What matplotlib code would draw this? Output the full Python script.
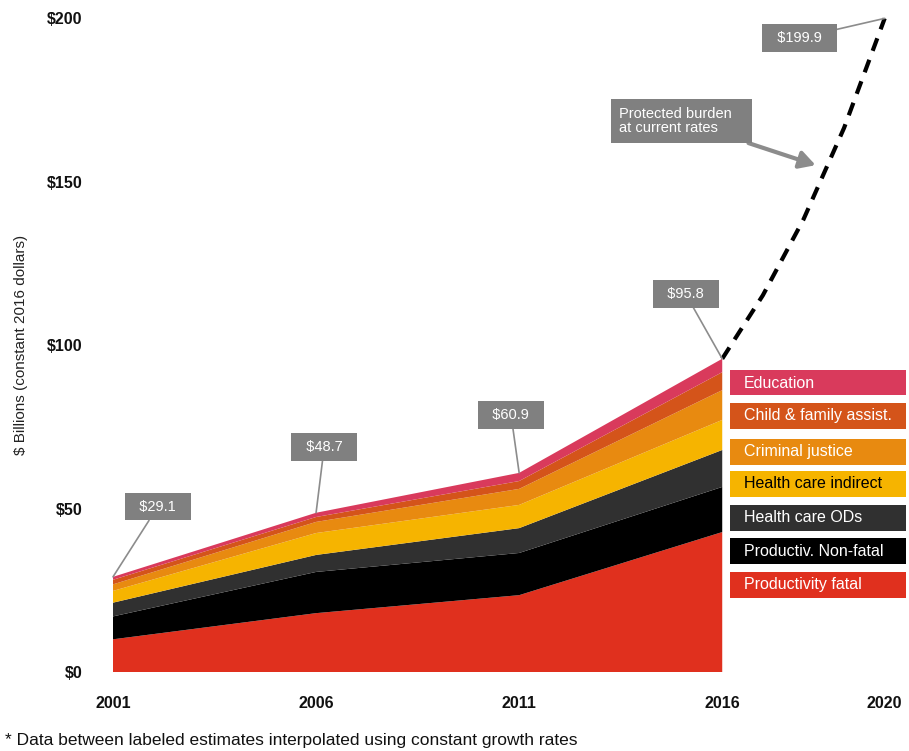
import matplotlib.pyplot as plt
from matplotlib.patches import Rectangle

plt.rcParams['font.family'] = ['Liberation Sans', 'DejaVu Sans']

years = [2001, 2006, 2011, 2016]
labels = ["Productivity fatal", "Productiv. Non-fatal", "Health care ODs",
          "Health care indirect", "Criminal justice", "Child & family assist.",
          "Education"]
fatal = [10.0, 18.0, 23.5, 42.8]
nonfatal = [7.0, 12.6, 12.9, 13.8]
hc_ods = [4.2, 5.2, 7.6, 11.3]
hc_indirect = [3.6, 6.7, 7.1, 9.2]
criminal = [2.0, 3.4, 4.9, 9.1]
child = [1.4, 1.5, 2.4, 5.5]
education = [0.9, 1.3, 2.5, 4.1]
totals = [29.1, 48.7, 60.9, 95.8]

proj_years = [2016, 2017, 2018, 2019, 2020]
proj_vals = [95.8, 115.2, 138.4, 166.4, 199.9]

colors = ["#E0301E", "#000000", "#303030", "#F6B400", "#E88A10", "#D4541A", "#D93A5C"]
text_colors = ["white", "white", "white", "black", "white", "white", "white"]

fig = plt.figure(figsize=(9.09, 7.51), dpi=100)
ax = fig.add_axes([113 / 909, 79 / 751, 792 / 909, 660.5 / 751])

series = [fatal, nonfatal, hc_ods, hc_indirect, criminal, child, education]
ax.stackplot(years, *series, colors=colors, linewidth=0)

ax.plot(proj_years, proj_vals, color="black", lw=3, dashes=(3.2, 2.3),
        clip_on=False, zorder=5)

ax.set_xlim(2001, 2020.5)
ax.set_ylim(0, 202)
ax.set_xticks([2001, 2006, 2011, 2016, 2020])
ax.set_yticks([0, 50, 100, 150, 200])
ax.set_yticklabels(["$0", "$50", "$100", "$150", "$200"])
ax.tick_params(length=0, labelsize=11.5)
ax.tick_params(axis="y", pad=22)
ax.tick_params(axis="x", pad=17)
for t in ax.get_xticklabels() + ax.get_yticklabels():
    t.set_fontweight("bold")
    t.set_color("#111111")
for s in ax.spines.values():
    s.set_visible(False)

fig.text(21 / 909, 1 - 345 / 751, "$ Billions (constant 2016 dollars)",
         rotation=90, ha="center", va="center", fontsize=11, color="#222222")
fig.text(5 / 909, 1 - 741 / 751,
         "* Data between labeled estimates interpolated using constant growth rates",
         ha="left", va="center", fontsize=12.5, color="#111111")

box = dict(boxstyle="square,pad=0.45", fc="#808080", ec="none")
line = dict(arrowstyle="-", color="#8c8c8c", lw=1.2, shrinkA=0, shrinkB=0)
label_pos = [(2002.1, 50.5), (2006.2, 68.8), (2010.8, 78.6), (2015.1, 115.6)]
for yr, tot, pos in zip(years, totals, label_pos):
    ax.annotate("  ${:.1f}  ".format(tot), xy=(yr, tot), xytext=pos,
                ha="center", va="center", color="white", fontsize=10.5,
                bbox=box, arrowprops=line, zorder=6)
ax.annotate("  ${:.1f}  ".format(proj_vals[-1]), xy=(proj_years[-1], proj_vals[-1]),
            xytext=(2017.9, 193.9), ha="center", va="center", color="white",
            fontsize=10.5, bbox=box, arrowprops=line, zorder=6,
            annotation_clip=False)
ax.annotate("Protected burden   \nat current rates", xy=(2018.3, 155),
            xytext=(2015.0, 168.5), ha="center", va="center", color="white",
            fontsize=10.5, linespacing=1.0, multialignment="left",
            bbox=dict(boxstyle="square,pad=0.55", fc="#808080", ec="none"),
            arrowprops=dict(arrowstyle="-|>,head_length=0.9,head_width=0.5",
                            color="#8c8c8c", lw=3, shrinkA=0, shrinkB=0),
            zorder=6)

# legend boxes on the right
tops = [370, 403, 439, 471, 505, 538, 572]
for lab, col, tc, top in zip(labels[::-1], colors[::-1], text_colors[::-1], tops):
    fig.add_artist(Rectangle((730 / 909, 1 - (top + 25.5) / 751), 176 / 909, 25.5 / 751,
                             transform=fig.transFigure, fc=col, ec="none"))
    fig.text(744 / 909, 1 - (top + 13) / 751, lab, ha="left", va="center",
             fontsize=11.5, color=tc)

fig.savefig("out.png", dpi=100)
